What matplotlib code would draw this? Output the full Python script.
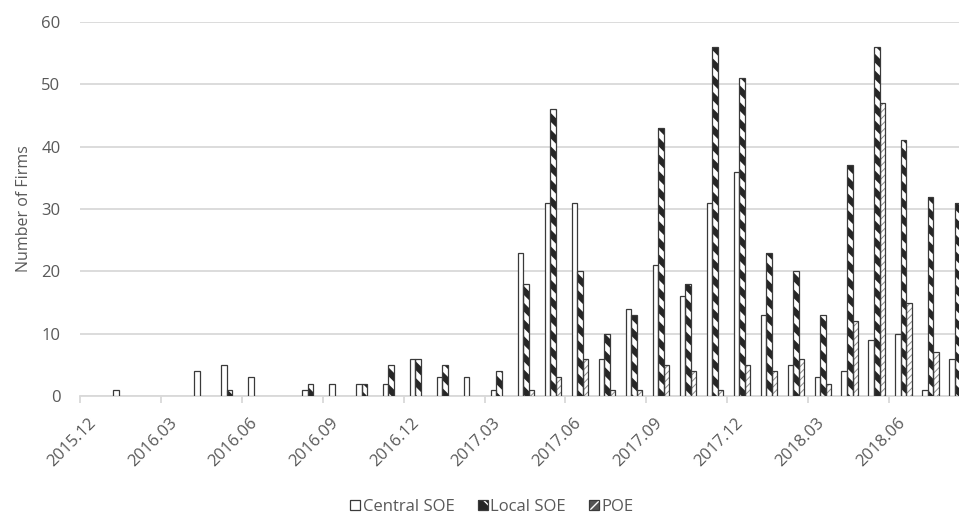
import numpy as np
import pandas as pd
import matplotlib
matplotlib.use('Agg')
import matplotlib.pyplot as plt
from matplotlib.patches import Patch

# Monthly counts, 2015.12 onwards (last month is clipped at the right edge)
months = list(pd.period_range('2015-12', periods=33, freq='M').strftime('%Y.%m'))
central_soe = [0, 1, 0, 0, 4, 5, 3, 0, 1, 2, 2, 2, 6, 3, 3, 1, 23, 31, 31, 6, 14,
               21, 16, 31, 36, 13, 5, 3, 4, 9, 10, 1, 6]
local_soe = [0, 0, 0, 0, 0, 1, 0, 0, 2, 0, 2, 5, 6, 5, 0, 4, 18, 46, 20, 10, 13,
             43, 18, 56, 51, 23, 20, 13, 37, 56, 41, 32, 31]
poe = [0, 0, 0, 0, 0, 0, 0, 0, 0, 0, 0, 0, 0, 0, 0, 0, 1, 3, 6, 1, 1,
       5, 4, 1, 5, 4, 6, 2, 12, 47, 15, 7, 5]
series_names = ['Central SOE', 'Local SOE', 'POE']

TEXT_COLOR = '#595959'
GRID_COLOR = '#d9d9d9'
EDGE_COLOR = '#3a3a3a'

plt.rcParams['font.family'] = ['Open Sans', 'DejaVu Sans']
plt.rcParams['font.size'] = 12

# hatch pattern, hatch colour, hatch line width for each series
styles = [
    (None, EDGE_COLOR, 1.0),
    ('\\\\', '#262626', 4.5),
    ('/////', '#8c8c8c', 0.7),
]
# legend swatches: dark square with white diagonal, like the small Excel icons
legend_swatches = [
    None,
    ('#262626', '\\\\', 1.4),
    ('#555555', '///', 1.0),
]

fig = plt.figure(figsize=(9.59, 5.17), dpi=100)
ax = fig.add_axes([80 / 959, 1 - 396 / 517, 1 - 80 / 959, (396 - 22) / 517])

x = np.arange(len(months))
width = 0.205
for i, (vals, (hatch, hcolor, hlw)) in enumerate(zip([central_soe, local_soe, poe], styles)):
    v = np.array(vals, dtype=float)
    v[v == 0] = np.nan
    pos = x + 0.04 + (i - 1) * width
    if hatch:
        with plt.rc_context({'hatch.linewidth': hlw}):
            ax.bar(pos, v, width=width, facecolor='white', edgecolor=hcolor,
                   linewidth=0, hatch=hatch, zorder=3)
    ax.bar(pos, v, width=width, fill=hatch is None, facecolor='white',
           edgecolor=EDGE_COLOR, linewidth=0.9, zorder=4)

# labels every 3 months, tick marks on category boundaries
ax.set_xticks(x[::3])
ax.set_xticklabels(months[::3], rotation=45, ha='right', va='center',
                   rotation_mode='anchor', color=TEXT_COLOR)
ax.set_xticks(np.arange(-0.5, 32, 3), minor=True)
ax.tick_params(axis='x', which='major', length=0, pad=18)
ax.tick_params(axis='x', which='minor', length=5, color=GRID_COLOR, width=1.3)

ax.set_xlim(-0.5, 32.09)
ax.set_ylim(0, 60)
ax.set_yticks(range(0, 61, 10))
ax.yaxis.grid(True, color=GRID_COLOR, linewidth=1.3, zorder=0)
ax.set_axisbelow(True)
for s in ['top', 'right', 'left']:
    ax.spines[s].set_visible(False)
ax.spines['bottom'].set_color(GRID_COLOR)
ax.spines['bottom'].set_linewidth(1.3)
ax.tick_params(axis='y', length=0, pad=14, colors=TEXT_COLOR)

ax.set_ylabel('Number of Firms', color=TEXT_COLOR, fontsize=11.5)
ax.yaxis.set_label_coords(-48 / 879, 0.5)

handles = []
for swatch in legend_swatches:
    outline = Patch(facecolor='white', edgecolor=EDGE_COLOR, linewidth=0.9,
                    fill=swatch is None)
    if swatch:
        face, hatch, hlw = swatch
        with plt.rc_context({'hatch.linewidth': hlw}):
            fill = Patch(facecolor=face, edgecolor='white', linewidth=0, hatch=hatch)
        handles.append((fill, outline))
    else:
        handles.append(outline)
fig.legend(handles=handles, labels=series_names, loc='center',
           bbox_to_anchor=(492 / 959, 1 - 507 / 517), ncol=3, frameon=False,
           handlelength=0.6, handleheight=0.6, handletextpad=0.15,
           columnspacing=1.4, labelcolor=TEXT_COLOR)

fig.savefig('out.png', dpi=100)
